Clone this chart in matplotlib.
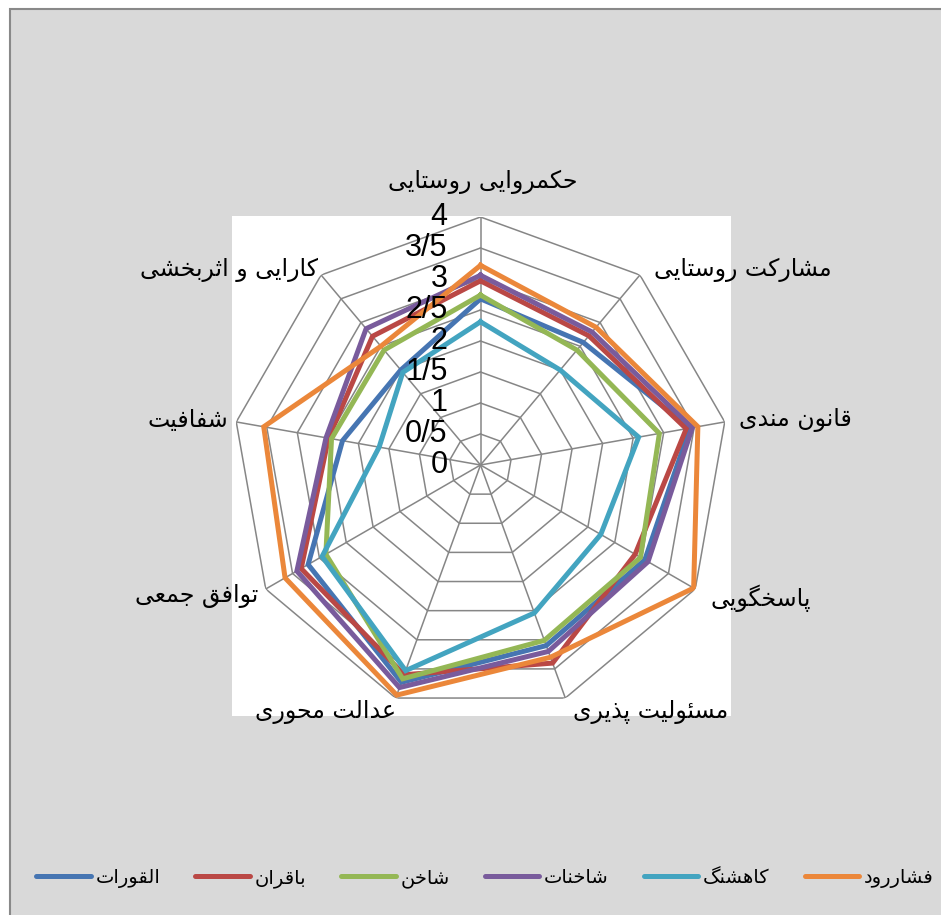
"""
Radar chart of rural governance indicators for six villages (Persian labels).
"""

import numpy as np
import matplotlib
matplotlib.use("Agg")
import matplotlib.pyplot as plt
from matplotlib.patches import Rectangle
from matplotlib.lines import Line2D

# data

CATEGORIES = ["حکمروایی روستایی", "مشارکت روستایی", "قانون مندی", "پاسخگویی",
              "مسئولیت پذیری", "عدالت محوری", "توافق جمعی", "شفافیت",
              "کارایی و اثربخشی"]
SERIES = ["القورات", "باقران", "شاخن", "شاخنات", "کاهشنگ", "فشاررود"]

ALGHOURAT = [2.68, 2.58, 3.43, 3.06, 3.10, 3.73, 3.21, 2.26, 2.00]
BAGHERAN  = [2.97, 2.72, 3.37, 2.88, 3.40, 3.60, 3.34, 2.49, 2.71]
SHAKHEN   = [2.74, 2.42, 2.93, 2.98, 3.01, 3.67, 2.88, 2.44, 2.42]
SHAKHENAT = [3.06, 2.80, 3.47, 3.12, 3.20, 3.82, 3.42, 2.53, 2.87]
KAHESHANG = [2.31, 2.00, 2.59, 2.24, 2.54, 3.53, 2.95, 1.66, 1.95]
FESHARROOD = [3.22, 2.90, 3.56, 3.97, 3.30, 3.95, 3.64, 3.55, 2.50]

TICK_VALUES = [0, 0.5, 1, 1.5, 2, 2.5, 3, 3.5, 4]
TICK_LABELS = ["0", "0/5", "1", "1/5", "2", "2/5", "3", "3/5", "4"]

COLORS = ["#4675B2", "#BA4845", "#94B755", "#795B9C", "#43A4C0", "#EB873A"]
GRID = "#868686"
FA_FONT = "DejaVu Sans"
NUM_FONT = "Liberation Sans"

# persian shaping (matplotlib has no text shaping, so use presentation forms)

# isolated, final, initial, medial  (None = letter does not join forward)
FORMS = {
    "ا": ("\uFE8D", "\uFE8E", None, None),
    "ب": ("\uFE8F", "\uFE90", "\uFE91", "\uFE92"),
    "ت": ("\uFE95", "\uFE96", "\uFE97", "\uFE98"),
    "ث": ("\uFE99", "\uFE9A", "\uFE9B", "\uFE9C"),
    "ج": ("\uFE9D", "\uFE9E", "\uFE9F", "\uFEA0"),
    "ح": ("\uFEA1", "\uFEA2", "\uFEA3", "\uFEA4"),
    "خ": ("\uFEA5", "\uFEA6", "\uFEA7", "\uFEA8"),
    "د": ("\uFEA9", "\uFEAA", None, None),
    "ذ": ("\uFEAB", "\uFEAC", None, None),
    "ر": ("\uFEAD", "\uFEAE", None, None),
    "ز": ("\uFEAF", "\uFEB0", None, None),
    "س": ("\uFEB1", "\uFEB2", "\uFEB3", "\uFEB4"),
    "ش": ("\uFEB5", "\uFEB6", "\uFEB7", "\uFEB8"),
    "ع": ("\uFEC9", "\uFECA", "\uFECB", "\uFECC"),
    "ف": ("\uFED1", "\uFED2", "\uFED3", "\uFED4"),
    "ق": ("\uFED5", "\uFED6", "\uFED7", "\uFED8"),
    "ل": ("\uFEDD", "\uFEDE", "\uFEDF", "\uFEE0"),
    "م": ("\uFEE1", "\uFEE2", "\uFEE3", "\uFEE4"),
    "ن": ("\uFEE5", "\uFEE6", "\uFEE7", "\uFEE8"),
    "ه": ("\uFEE9", "\uFEEA", "\uFEEB", "\uFEEC"),
    "و": ("\uFEED", "\uFEEE", None, None),
    "ئ": ("\uFE89", "\uFE8A", "\uFE8B", "\uFE8C"),
    "پ": ("\uFB56", "\uFB57", "\uFB58", "\uFB59"),
    "ک": ("\uFB8E", "\uFB8F", "\uFB90", "\uFB91"),
    "گ": ("\uFB92", "\uFB93", "\uFB94", "\uFB95"),
    "ی": ("\uFBFC", "\uFBFD", "\uFBFE", "\uFBFF"),
}


def fa(text: str) -> str:
    out = []
    for i, c in enumerate(text):
        if c not in FORMS:
            out.append(c)
            continue
        prev = text[i - 1] if i > 0 else None
        nxt = text[i + 1] if i + 1 < len(text) else None
        join_prev = prev in FORMS and FORMS[prev][2] is not None
        join_next = nxt in FORMS and FORMS[c][2] is not None
        iso, fin, ini, med = FORMS[c]
        if join_prev and join_next:
            out.append(med)
        elif join_prev:
            out.append(fin)
        elif join_next:
            out.append(ini)
        else:
            out.append(iso)
    return "".join(reversed(out))


# figure

W, H = 941, 915
fig = plt.figure(figsize=(W / 100, H / 100), dpi=100, facecolor="white")

# gray chart area with border, white plot area
fig.add_artist(Rectangle((9.5 / W, -0.02), 1.0, 1 - 9.5 / H + 0.02,
                         transform=fig.transFigure, facecolor="#D9D9D9",
                         edgecolor="#898989", linewidth=1.5, zorder=-2))
fig.add_artist(Rectangle((232 / W, 1 - 716 / H), 499 / W, 500 / H,
                         transform=fig.transFigure, facecolor="white",
                         edgecolor="none", zorder=-1))

cx, cy, rad = 480.5, 465, 248
ax = fig.add_axes([(cx - rad) / W, 1 - (cy + rad) / H, 2 * rad / W, 2 * rad / H],
                  projection="polar")
ax.set_zorder(1)
ax.set_facecolor("none")
ax.set_theta_zero_location("N")
ax.set_theta_direction(-1)
ax.set_ylim(0, 4)
ax.grid(False)
ax.spines["polar"].set_visible(False)
ax.set_xticks([])
ax.set_yticks([])

n = len(CATEGORIES)
angles = np.linspace(0, 2 * np.pi, n, endpoint=False)
closed = np.append(angles, angles[0])

# polygon grid and spokes
for lv in TICK_VALUES[1:]:
    ax.plot(closed, [lv] * (n + 1), color=GRID, linewidth=1.1, zorder=1)
for a in angles:
    ax.plot([a, a], [0, 4], color=GRID, linewidth=1.1, zorder=1)

series_vals = [ALGHOURAT, BAGHERAN, SHAKHEN, SHAKHENAT, KAHESHANG, FESHARROOD]
for vals, color in zip(series_vals, COLORS):
    ax.plot(closed, vals + vals[:1], color=color, linewidth=3.6,
            solid_joinstyle="miter", zorder=3)

# radial tick labels (drawn over the series, as in the original)
for v, lbl in zip(TICK_VALUES, TICK_LABELS):
    ax.annotate(lbl, xy=(0, v), xytext=(-33, 0), textcoords="offset pixels",
                ha="right", va="center", fontsize=22, family=NUM_FONT,
                color="black", zorder=5, annotation_clip=False)

# category labels: (dx, dy) pixel offsets from outer vertex, alignment
label_pos = [(2, 35, "center"), (14, 5, "left"), (14, 2, "left"),
             (15, -9, "left"), (8, -14, "left"), (0, -14, "right"),
             (-7, -7, "right"), (-8, 2, "right"), (-3, 5, "right")]
for a, cat, (dx, dy, ha) in zip(angles, CATEGORIES, label_pos):
    ax.annotate(fa(cat), xy=(a, 4), xytext=(dx, dy), textcoords="offset pixels",
                ha=ha, va="center", fontsize=17, family=FA_FONT,
                color="black", annotation_clip=False)

# legend
handles = [Line2D([0], [0], color=c, linewidth=3.6, solid_capstyle="round")
           for c in COLORS]
fig.legend(handles, [fa(s) for s in SERIES], loc="center",
           bbox_to_anchor=(485 / W, 1 - 878 / H), ncol=6, frameon=False,
           prop={"family": FA_FONT, "size": 14}, handlelength=2.8,
           handletextpad=0.25, columnspacing=1.8)

fig.savefig("out.png", dpi=100, facecolor=fig.get_facecolor())
